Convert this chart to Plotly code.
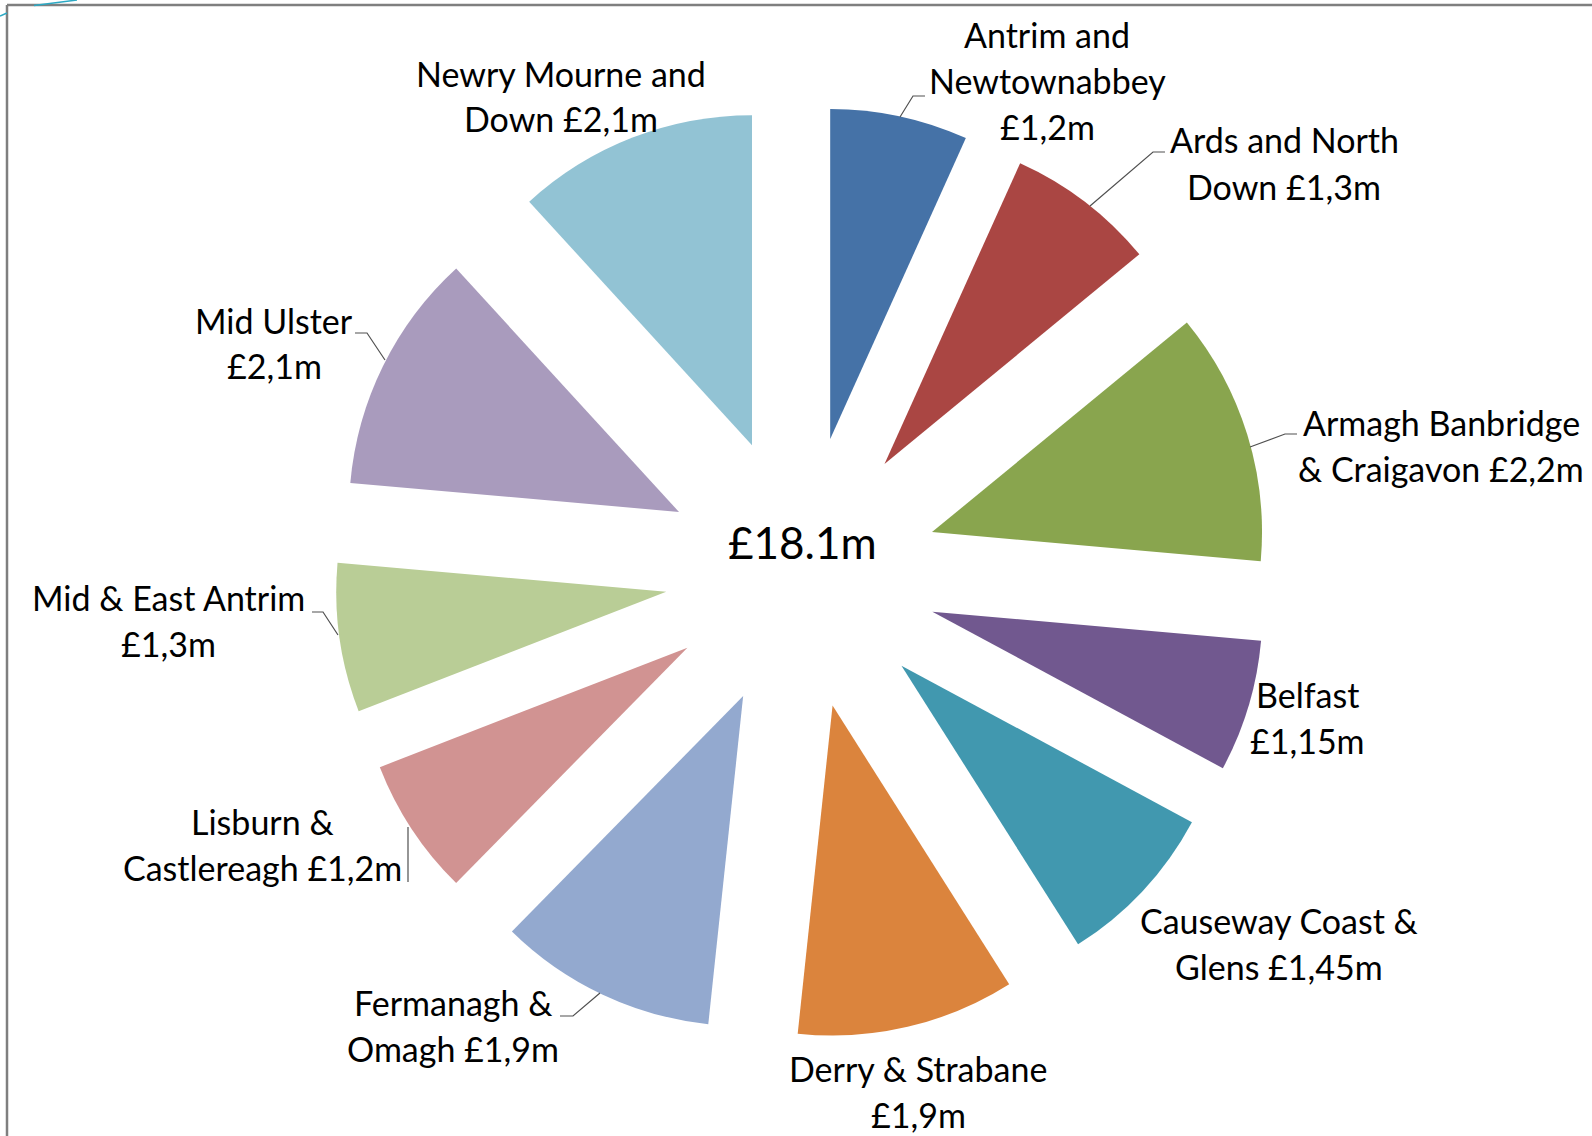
import plotly.graph_objects as go

W, H = 1592, 1136

# ---- data ----
regions = [
    "Antrim and Newtownabbey", "Ards and North Down", "Armagh Banbridge & Craigavon",
    "Belfast", "Causeway Coast & Glens", "Derry & Strabane", "Fermanagh & Omagh",
    "Lisburn & Castlereagh", "Mid & East Antrim", "Mid Ulster", "Newry Mourne and Down",
]
values = [1.2, 1.3, 2.2, 1.15, 1.45, 1.9, 1.9, 1.2, 1.3, 2.1, 2.1]
value_text = ["£1,2m", "£1,3m", "£2,2m", "£1,15m", "£1,45m", "£1,9m", "£1,9m",
              "£1,2m", "£1,3m", "£2,1m", "£2,1m"]
label_lines = [
    ["Antrim and", "Newtownabbey", "£1,2m"],
    ["Ards and North", "Down £1,3m"],
    ["Armagh Banbridge", "& Craigavon £2,2m"],
    ["Belfast", "£1,15m"],
    ["Causeway Coast &", "Glens £1,45m"],
    ["Derry & Strabane", "£1,9m"],
    ["Fermanagh &", "Omagh £1,9m"],
    ["Lisburn &", "Castlereagh £1,2m"],
    ["Mid & East Antrim", "£1,3m"],
    ["Mid Ulster", "£2,1m"],
    ["Newry Mourne and", "Down £2,1m"],
]
total_text = "£18.1m"
colors = ["#4572A7", "#AA4643", "#89A54E", "#71588F", "#4198AF", "#DB843D",
          "#93A9CF", "#D19392", "#B9CD96", "#A99BBD", "#92C3D4"]

# ---- layout positions (pixels) ----
label_pos = [  # (center x, first line center y)
    (1047, 34), (1284, 140), (1441, 422), (1307, 694), (1279, 921),
    (918, 1068), (453, 1002), (262, 821), (168, 597), (274, 320), (561, 73),
]
line_gap = 46
leaders = [
    [(925, 96), (913, 96), (900, 117)],
    [(1165, 152), (1153, 152), (1090, 206)],
    [(1297, 434), (1285, 434), (1250, 447)],
    [(355, 333), (367, 333), (385, 360)],
    [(312, 612), (323, 612), (338, 635)],
    [(408, 827), (408, 882)],
    [(560, 1016), (573, 1016), (600, 993)],
]

def px(x):
    return x / W

def py(y):
    return 1 - y / H

cx, cy, half = 801.5, 572.5, 466.6
pull = 0.414

fig = go.Figure(go.Pie(
    labels=regions, values=values, sort=False, direction="clockwise", rotation=0,
    pull=[pull] * len(values), textinfo="none", hoverinfo="label+value",
    marker=dict(colors=colors, line=dict(width=0)),
    domain=dict(x=[px(cx - half), px(cx + half)], y=[py(cy + half), py(cy - half)]),
    showlegend=False,
))

annotations = []
for lines, (lx, ly) in zip(label_lines, label_pos):
    for i, t in enumerate(lines):
        annotations.append(dict(
            text=t, x=px(lx), y=py(ly + i * line_gap), xref="paper", yref="paper",
            xanchor="center", yanchor="middle", showarrow=False,
            font=dict(family="Lato", size=34, color="#000000"),
        ))
annotations.append(dict(
    text=total_text, x=px(802.5), y=py(542), xref="paper", yref="paper",
    xanchor="center", yanchor="middle", showarrow=False,
    font=dict(family="Lato", size=44, color="#000000"),
))

shapes = []
for pts in leaders:
    path = "M " + " L ".join(f"{px(x):.5f},{py(y):.5f}" for x, y in pts)
    shapes.append(dict(type="path", path=path, xref="paper", yref="paper",
                       line=dict(color="#505050", width=1.2)))
# chart frame (top and left edges visible)
shapes.append(dict(type="line", xref="paper", yref="paper", x0=px(7), y0=py(5), x1=1.0, y1=py(5),
                   line=dict(color="#7F7F7F", width=2.5)))
shapes.append(dict(type="line", xref="paper", yref="paper", x0=px(7), y0=py(5), x1=px(7), y1=0.0,
                   line=dict(color="#7F7F7F", width=2.5)))
# small teal artefact at top-left corner
shapes.append(dict(type="path", xref="paper", yref="paper",
                   path=f"M {px(0)},{py(16)} L {px(7)},{py(13)}",
                   line=dict(color="#2BA9C4", width=1.5)))
shapes.append(dict(type="path", xref="paper", yref="paper",
                   path=f"M {px(34)},{py(5.5)} L {px(77)},{py(0)}",
                   line=dict(color="#2BA9C4", width=1.5)))

fig.update_layout(
    width=W, height=H, margin=dict(l=0, r=0, t=0, b=0),
    paper_bgcolor="white", plot_bgcolor="white",
    annotations=annotations, shapes=shapes,
)

fig.write_html("out.html", config={"displayModeBar": False},
               post_script="document.body.style.margin='0';document.body.style.overflow='hidden';")
